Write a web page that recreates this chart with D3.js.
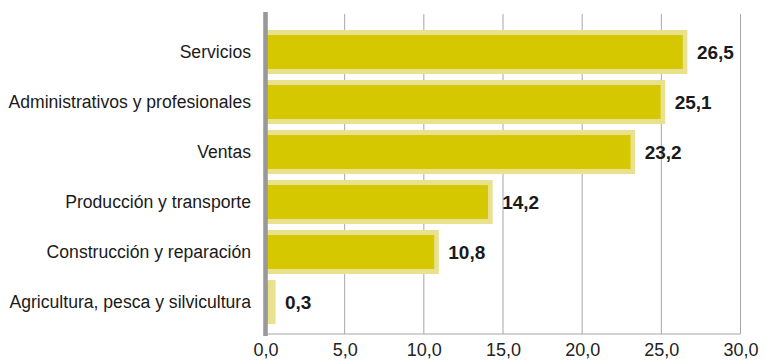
<!DOCTYPE html>
<html>
<head>
<meta charset="utf-8">
<script src="https://cdn.jsdelivr.net/npm/d3@7"></script>
<style>
  body { margin: 0; background: #fff; }
  text { font-family: "Liberation Sans", Arial, sans-serif; }
</style>
</head>
<body>
<div id="chart"></div>
<script>
var categories = ["Servicios", "Administrativos y profesionales", "Ventas",
                  "Producción y transporte", "Construcción y reparación",
                  "Agricultura, pesca y silvicultura"];
var values = [26.5, 25.1, 23.2, 14.2, 10.8, 0.3];
var ticks = [0, 5, 10, 15, 20, 25, 30];

var width = 765,
    height = 360;

var data = categories.map(function(c, i) { return {c: c, v: values[i]}; });
var fmt = function(v) { return d3.format(".1f")(v).replace(".", ","); };

var x = d3.scaleLinear()
    .domain([0, 30])
    .range([265.5, 740.5]);

var y = d3.scaleBand()
    .domain(categories)
    .range([27, 327])
    .padding(0);

var svg = d3.select("#chart")
    .append("svg")
    .attr("width", width)
    .attr("height", height);

// grid
svg.append("g")
    .selectAll("line")
    .data(ticks.slice(1))
    .enter().append("line")
    .attr("x1", function(d) { return x(d); })
    .attr("x2", function(d) { return x(d); })
    .attr("y1", 14)
    .attr("y2", 334)
    .attr("stroke", "#a6a6a6")
    .attr("stroke-width", 1);

svg.append("line")
    .attr("x1", x(0))
    .attr("x2", x(30))
    .attr("y1", 334)
    .attr("y2", 334)
    .attr("stroke", "#a6a6a6")
    .attr("stroke-width", 1.2);

var xAxis = d3.axisBottom(x)
    .tickValues(ticks)
    .tickSize(0)
    .tickPadding(0)
    .tickFormat(fmt);

var gx = svg.append("g")
    .attr("transform", "translate(0,343)")
    .call(xAxis);
gx.select(".domain").remove();
gx.selectAll("text")
    .attr("dy", "0.71em")
    .attr("y", 0)
    .style("font-size", "18px")
    .style("fill", "#222")
    .style("font-family", "'Liberation Sans', Arial, sans-serif");

var bh = y.bandwidth();
var cy = function(d) { return y(d.c) + bh / 2; };

// outer light bar
svg.append("g")
    .selectAll("rect")
    .data(data)
    .enter().append("rect")
    .attr("x", x(0))
    .attr("y", function(d) { return cy(d) - 22; })
    .attr("width", function(d) { return Math.max(x(d.v) - x(0) + 2.3, 10); })
    .attr("height", 44)
    .attr("fill", "#e9e18e");

// inner dark bar
svg.append("g")
    .selectAll("rect")
    .data(data)
    .enter().append("rect")
    .attr("x", x(0))
    .attr("y", function(d) { return cy(d) - 17; })
    .attr("width", function(d) { return Math.max(x(d.v) - x(0) - 2.3, 0); })
    .attr("height", 34)
    .attr("fill", "#d6c800");

// value labels
svg.append("g")
    .selectAll("text")
    .data(data)
    .enter().append("text")
    .attr("x", function(d) { return x(0) + Math.max(x(d.v) - x(0) + 2.3, 10) + 9.5; })
    .attr("y", cy)
    .attr("dy", "0.36em")
    .style("font-size", "19px")
    .style("font-weight", "bold")
    .style("fill", "#1a1a1a")
    .text(function(d) { return fmt(d.v); });

// category labels
var yAxis = d3.axisLeft(y)
    .tickSize(0)
    .tickPadding(0);
var gy = svg.append("g")
    .attr("transform", "translate(251,0)")
    .call(yAxis);
gy.select(".domain").remove();
gy.selectAll("text")
    .attr("dy", "0.36em")
    .style("font-size", "17.6px")
    .style("fill", "#1a1a1a")
    .style("font-family", "'Liberation Sans', Arial, sans-serif");

// left axis bar
svg.append("line")
    .attr("x1", x(0))
    .attr("x2", x(0))
    .attr("y1", 12)
    .attr("y2", 336)
    .attr("stroke", "#999999")
    .attr("stroke-width", 4.6);
</script>
</body>
</html>
